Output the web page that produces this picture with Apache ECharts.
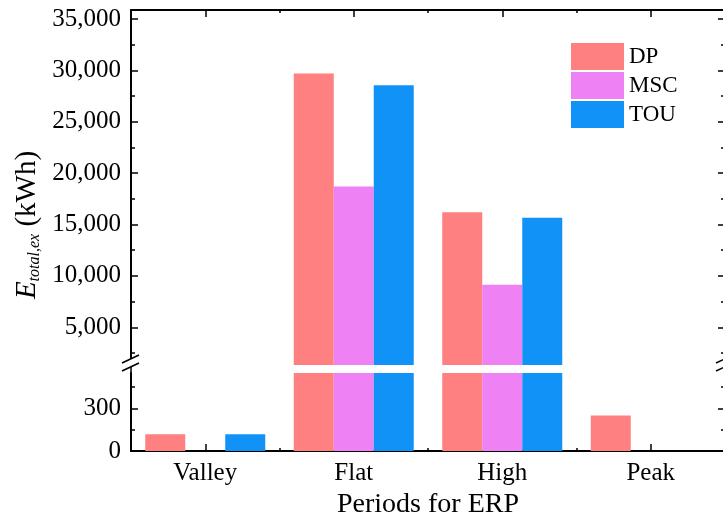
<!DOCTYPE html>
<html>
<head>
<meta charset="utf-8">
<script src="https://cdn.jsdelivr.net/npm/echarts@6/dist/echarts.min.js"></script>
<style>html,body{margin:0;padding:0;background:#fff}#c{width:723px;height:520px}</style>
</head>
<body>
<div id="c"></div>
<script>
// ---- data ----
const categories = ['Valley', 'Flat', 'High', 'Peak'];
const seriesNames = ['DP', 'MSC', 'TOU'];
const dpValues  = [118, 29700, 16200, 250];
const mscValues = [0, 18700, 9150, 0];
const touValues = [118, 28550, 15650, 0];
const topMajorTicks = [5000, 10000, 15000, 20000, 25000, 30000, 35000];
const topMinorTicks = [2500, 7500, 12500, 17500, 22500, 27500, 32500];
const bottomMajorTicks = [0, 300];
const bottomMinorTicks = [150, 450];
const topRange = [1330, 35880];
const bottomRange = [0, 550];
const xTitle = 'Periods for ERP';

// ---- styles ----
const FONT = 'Liberation Serif';
const colors = ['#ff8080', '#ee82f5', '#1192f7'];
const values = [dpValues, mscValues, touValues];

function fmt(v) { return Number(v).toLocaleString('en-US'); }

function yAxis(grid, pos, range, ticks, len, line, label) {
  return {
    type: 'value', gridIndex: grid, position: pos, min: range[0], max: range[1],
    axisLine: { show: line, onZero: false, lineStyle: { color: '#000', width: 2 } },
    axisTick: { show: true, inside: true, length: len, customValues: ticks, lineStyle: { color: '#000', width: 1.5 } },
    axisLabel: label ? { show: true, customValues: ticks, formatter: fmt, margin: 10, color: '#000', fontFamily: FONT, fontSize: 25 } : { show: false },
    splitLine: { show: false }
  };
}
function xAxis(grid, pos, major, line, label) {
  const a = {
    type: 'category', gridIndex: grid, position: pos, data: categories,
    axisLine: { show: line, onZero: false, lineStyle: { color: '#000', width: 2 } },
    axisTick: { show: true, inside: true, alignWithLabel: major, length: major ? 7 : 3, lineStyle: { color: '#000', width: 1.5 } },
    axisLabel: label ? { show: true, margin: 10, color: '#000', fontFamily: FONT, fontSize: 25 } : { show: false },
    splitLine: { show: false }
  };
  if (label) {
    a.name = xTitle; a.nameLocation = 'middle'; a.nameGap = 40;
    a.nameTextStyle = { color: '#000', fontFamily: FONT, fontSize: 28, verticalAlign: 'top' };
  }
  return a;
}

const series = [];
[0, 1].forEach(function (g) {
  seriesNames.forEach(function (n, i) {
    series.push({
      type: 'bar', name: n, xAxisIndex: g === 0 ? 0 : 2, yAxisIndex: g === 0 ? 0 : 4,
      data: values[i], barWidth: 40, barGap: '0%',
      itemStyle: { color: colors[i] }, emphasis: { disabled: true }, clip: true
    });
  });
});

const L = 131, R = 725;
function seg(x1, y1, x2, y2) {
  return { type: 'line', shape: { x1: x1, y1: y1, x2: x2, y2: y2 }, style: { stroke: '#000', lineWidth: 1.5 }, z: 100 };
}
const graphics = [
  { type: 'rect', shape: { x: L - 4, y: 359, width: 8, height: 8 }, style: { fill: '#fff' }, z: 99 },
  { type: 'rect', shape: { x: R - 4, y: 359, width: 8, height: 8 }, style: { fill: '#fff' }, z: 99 },
  seg(L, 367, L, 373),
  seg(L - 9, 363, L + 8, 355), seg(L - 9, 371, L + 8, 363),
  seg(R - 9, 363, R + 8, 355), seg(R - 9, 371, R + 8, 363),
  {
    type: 'text', x: 27, y: 225, rotation: Math.PI / 2, z: 100,
    style: {
      text: '{e|E}{s|total,ex}{n| (kWh)}', align: 'center', verticalAlign: 'middle',
      rich: {
        e: { fontFamily: FONT, fontStyle: 'italic', fontSize: 29, fill: '#000', color: '#000' },
        s: { fontFamily: FONT, fontStyle: 'italic', fontSize: 16, fill: '#000', color: '#000', padding: [15, 0, 0, 0] },
        n: { fontFamily: FONT, fontSize: 29, fill: '#000', color: '#000' }
      }
    }
  }
];

const option = {
  animation: false,
  grid: [
    { left: L, top: 10, width: R - L, height: 355, outerBoundsMode: 'none', containLabel: false },
    { left: L, top: 373, width: R - L, height: 78, outerBoundsMode: 'none', containLabel: false }
  ],
  legend: {
    data: seriesNames, orient: 'vertical', left: 571, top: 43, padding: 0,
    itemWidth: 53, itemHeight: 27, itemGap: 2, icon: 'rect',
    textStyle: { fontFamily: FONT, fontSize: 23, color: '#000', padding: [0, 0, 0, 0] },
    selectedMode: false
  },
  xAxis: [
    xAxis(0, 'top', true, true, false),
    xAxis(0, 'top', false, false, false),
    xAxis(1, 'bottom', true, true, true),
    xAxis(1, 'bottom', false, false, false)
  ],
  yAxis: [
    yAxis(0, 'left', topRange, topMajorTicks, 7, true, true),
    yAxis(0, 'left', topRange, topMinorTicks, 4, false, false),
    yAxis(0, 'right', topRange, topMajorTicks, 7, true, false),
    yAxis(0, 'right', topRange, topMinorTicks, 4, false, false),
    yAxis(1, 'left', bottomRange, bottomMajorTicks, 7, true, true),
    yAxis(1, 'left', bottomRange, bottomMinorTicks, 4, false, false),
    yAxis(1, 'right', bottomRange, bottomMajorTicks, 7, true, false),
    yAxis(1, 'right', bottomRange, bottomMinorTicks, 4, false, false)
  ],
  series: series,
  graphic: graphics
};
echarts.init(document.getElementById('c'), null, { renderer: 'canvas' }).setOption(option);
</script>
</body>
</html>
